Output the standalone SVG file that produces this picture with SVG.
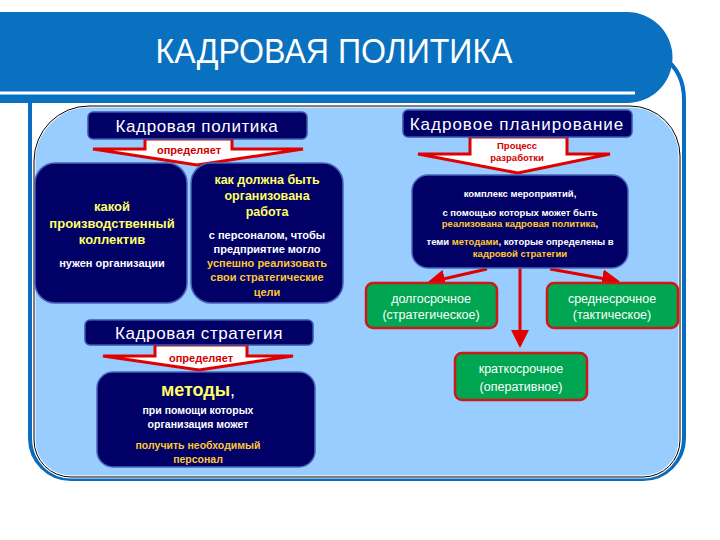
<svg xmlns="http://www.w3.org/2000/svg" width="720" height="540" viewBox="0 0 720 540">
<defs>
<style>
.dark{fill:#000066;stroke:#4a62b8;stroke-width:1.5}
.green{fill:#00A651;stroke:#D01818;stroke-width:2.5}
.bar{fill:#000066;stroke:#3a55aa;stroke-width:1.5}
.bartxt{font-family:"Liberation Sans",Arial,sans-serif;font-size:17px;fill:#fff;text-anchor:middle;letter-spacing:0.6px}
.arr{fill:#fff;stroke:#E00000;stroke-width:3;stroke-linejoin:miter}
.arrtxt{font-family:"Liberation Sans",Arial,sans-serif;font-weight:bold;fill:#D00000;text-anchor:middle}
.t{font-family:"Liberation Sans",Arial,sans-serif;font-weight:bold;text-anchor:middle}
.y{fill:#FFFF66}
.o{fill:#FFC832}
.w{fill:#fff}
.g{font-family:"Liberation Sans",Arial,sans-serif;font-size:12.5px;fill:#fff;text-anchor:middle}
.conn{stroke:#E00000;stroke-width:3;fill:none;marker-end:url(#ah)}
</style>
<marker id="ah" markerWidth="6" markerHeight="6" refX="5" refY="3" orient="auto" markerUnits="strokeWidth">
<path d="M0,0 L6,3 L0,6 Z" fill="#E00000"/>
</marker>
</defs>
<rect width="720" height="540" fill="#fff"/>
<g id="frame">
<path d="M30,100 V438 A41,41 0 0 0 71,479 H643 A41,41 0 0 0 684,438 V100 Q684,72 664,58" fill="none" stroke="#0A6CBE" stroke-width="4"/>
<path d="M89,106 H630 A50,50 0 0 1 680,156 V440 A37,37 0 0 1 643,477 H71 A37,37 0 0 1 34,440 V161 A55,55 0 0 1 89,106 Z" fill="#99CCFF" stroke="#fff" stroke-width="3"/>
<path d="M89,106 H630 A50,50 0 0 1 680,156 V440 A37,37 0 0 1 643,477 H71 A37,37 0 0 1 34,440 V161 A55,55 0 0 1 89,106 Z" fill="none" stroke="#000" stroke-width="1"/>
</g>
<g id="header">
<path d="M0,12 H627 A45.5,45.5 0 0 1 627,103 H0 Z" fill="#0A70C0"/>
<line x1="0" y1="93" x2="635" y2="93" stroke="#fff" stroke-width="3"/>
<text x="334" y="63" font-family="Liberation Sans,Arial,sans-serif" font-size="35" fill="#fff" text-anchor="middle" textLength="357" lengthAdjust="spacingAndGlyphs">КАДРОВАЯ ПОЛИТИКА</text>
</g>
<g id="connectors">
<line class="conn" x1="487" y1="269" x2="430" y2="282"/>
<line class="conn" x1="550" y1="269" x2="617" y2="281"/>
<line class="conn" x1="520" y1="268" x2="520" y2="345"/>
</g>
<g id="arrow-politika">
<polygon class="arr" points="145,139 232,139 232,149 303,149 197,165 93,149 145,149"/>
<text class="arrtxt" x="189" y="154" font-size="11">определяет</text>
</g>
<g id="arrow-planirovanie">
<polygon class="arr" points="470,137 567,137 567,154 610,154 518,173 418,154 470,154"/>
<text class="arrtxt" x="517" y="149" font-size="9.5">Процесс</text>
<text class="arrtxt" x="517" y="161" font-size="9.5">разработки</text>
</g>
<g id="arrow-strategiya">
<polygon class="arr" points="155,345 247,345 247,356 293,356 199,370 103,356 155,356"/>
<text class="arrtxt" x="201" y="362" font-size="11">определяет</text>
</g>
<g id="node-politika">
<rect class="bar" x="88" y="112" width="219" height="27" rx="5"/>
<text class="bartxt" x="197" y="132">Кадровая политика</text>
</g>
<g id="node-kollektiv">
<rect class="dark" x="35" y="163" width="152" height="140" rx="20"/>
<text class="t y" x="112" y="211" font-size="13">какой</text>
<text class="t y" x="112" y="228" font-size="13">производственный</text>
<text class="t y" x="112" y="244" font-size="13">коллектив</text>
<text class="t w" x="112" y="267" font-size="11">нужен организации</text>
</g>
<g id="node-rabota">
<rect class="dark" x="191" y="163" width="152" height="140" rx="20"/>
<text class="t y" x="267" y="184" font-size="12.5">как  должна быть</text>
<text class="t y" x="267" y="200" font-size="12.5">организована</text>
<text class="t y" x="267" y="216" font-size="12.5">работа</text>
<text class="t w" x="267" y="239" font-size="11">с персоналом, чтобы</text>
<text class="t w" x="267" y="253" font-size="11">предприятие могло</text>
<text class="t o" x="267" y="267" font-size="11">успешно реализовать</text>
<text class="t o" x="267" y="281" font-size="11">свои стратегические</text>
<text class="t o" x="267" y="296" font-size="11">цели</text>
</g>
<g id="node-planirovanie">
<rect class="bar" x="403" y="110" width="229" height="27" rx="5"/>
<text class="bartxt" x="517" y="130" style="letter-spacing:1px">Кадровое планирование</text>
</g>
<g id="node-kompleks">
<rect class="dark" x="412" y="175" width="216" height="93" rx="16"/>
<text class="t w" x="520" y="197" font-size="9.5">комплекс мероприятий,</text>
<text class="t w" x="520" y="216" font-size="9.5">с помощью которых может быть</text>
<text class="t" x="520" y="227" font-size="9.5"><tspan class="o">реализована кадровая политика</tspan><tspan class="w">,</tspan></text>
<text class="t w" x="520" y="245" font-size="9.5">теми <tspan class="o">методами</tspan>, которые определены в</text>
<text class="t o" x="520" y="257" font-size="9.5">кадровой стратегии</text>
</g>
<g id="node-dolgo">
<rect class="green" x="366" y="283" width="131" height="45" rx="7"/>
<text class="g" x="431" y="303">долгосрочное</text>
<text class="g" x="431" y="319">(стратегическое)</text>
</g>
<g id="node-sredne">
<rect class="green" x="547" y="283" width="131" height="45" rx="7"/>
<text class="g" x="612" y="303">среднесрочное</text>
<text class="g" x="612" y="319">(тактическое)</text>
</g>
<g id="node-kratko">
<rect class="green" x="455" y="353" width="132" height="47" rx="7"/>
<text class="g" x="521" y="373">краткосрочное</text>
<text class="g" x="521" y="391">(оперативное)</text>
</g>
<g id="node-strategiya">
<rect class="bar" x="85" y="320" width="228" height="25" rx="5"/>
<text class="bartxt" x="199" y="339">Кадровая стратегия</text>
</g>
<g id="node-metody">
<rect class="dark" x="97" y="372" width="218" height="95" rx="16"/>
<text class="t" x="198" y="396" font-size="18" font-weight="normal"><tspan class="y" font-weight="bold">методы</tspan><tspan class="w" font-weight="normal">,</tspan></text>
<text class="t w" x="198" y="414" font-size="10.5">при помощи которых</text>
<text class="t w" x="198" y="428" font-size="10.5">организация может</text>
<text class="t o" x="198" y="449" font-size="10.5">получить необходимый</text>
<text class="t o" x="198" y="463" font-size="10.5">персонал</text>
</g>
</svg>
